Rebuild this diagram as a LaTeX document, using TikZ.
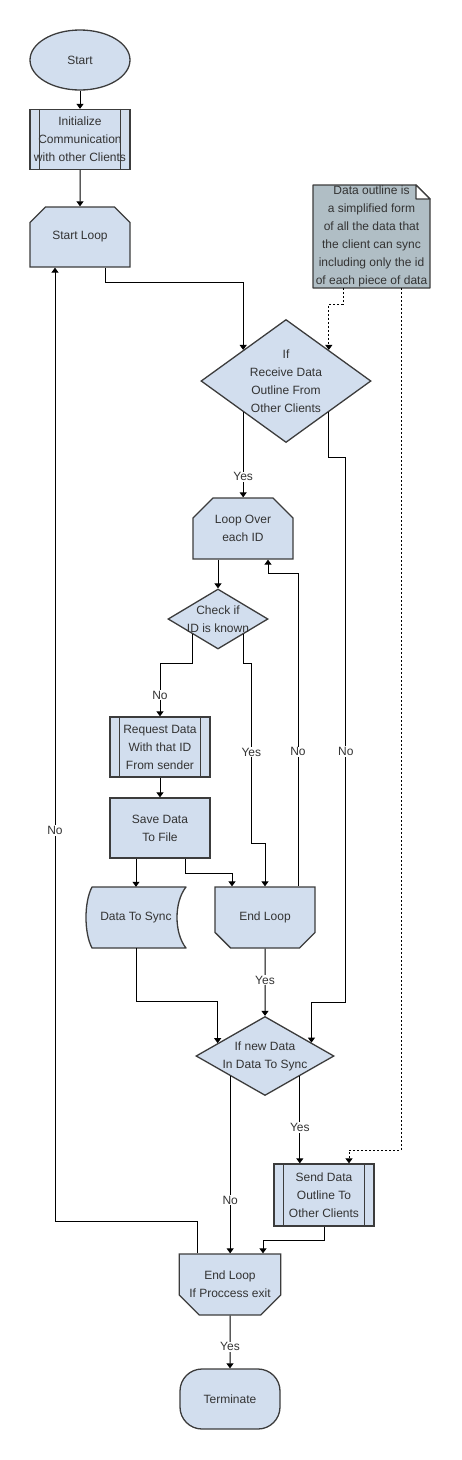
\documentclass[tikz,border=0pt]{standalone}
\usepackage{fontspec}
\setmainfont{Liberation Sans}
\usepackage{tikz}
\usetikzlibrary{arrows.meta,calc,shapes.geometric,shapes.misc}
\definecolor{boxBlue}{HTML}{D2DEEE}
\definecolor{noteGrey}{HTML}{B0BEC5}
\definecolor{edgeGrey}{HTML}{3C3C3C}
\definecolor{textGrey}{HTML}{333333}

\begin{document}
\begin{tikzpicture}[x=1pt,y=-1pt,>={Triangle[width=7pt,length=5pt]},
    every node/.style={font=\fontsize{12}{18}\selectfont,text=textGrey,align=center},
    box/.style={draw=edgeGrey,fill=boxBlue,line width=1.3pt,inner sep=0pt,
      minimum width=100pt,minimum height=60pt},
    looptop/.style={box,chamfered rectangle,chamfered rectangle xsep=10pt,
      chamfered rectangle ysep=10pt,chamfered rectangle corners={north west,north east}},
    loopend/.style={box,chamfered rectangle,chamfered rectangle xsep=10pt,
      chamfered rectangle ysep=10pt,chamfered rectangle corners={south west,south east}},
    dec/.style={box,diamond},
    outline/.style={draw=edgeGrey,line width=1.3pt,line join=round},
    link/.style={->,line width=1pt},
    hint/.style={link,dash pattern=on 2pt off 2pt},
    lbl/.style={fill=white,inner sep=1pt}]
  \useasboundingbox (0,0) rectangle (461,1460);

  % note and storage outlines, drawn under their texts
  \coordinate (noteC) at (371.5,236.5);
  \coordinate (dtsC) at (136,917.5);
  \filldraw[outline,fill=noteGrey] ($(noteC)+(-58.5,-51.5)$) -- ++(103,0) -- ++(14,14)
    -- ++(0,89) -- ++(-117,0) -- cycle;
  \filldraw[outline,fill=white] ($(noteC)+(44.5,-51.5)$) -- ++(0,14) -- ++(14,0) -- cycle;
  \filldraw[outline,fill=boxBlue] ($(dtsC)+(-44,30.5)$)
    .. controls +(-8,-15) and +(-8,15) .. ++(0,-61)
    -- ++(94,0)
    .. controls +(-12,15) and +(-12,-15) .. ++(0,61) -- cycle;

  \node[box,ellipse] (start) at (80,60) {Start};
  \node[box] (init) at (80,139.5) {Initialize\\Communication\\with other Clients};
  \node[looptop] (sloop) at (80,237) {Start Loop};
  \node[inner sep=0pt,minimum width=117pt,minimum height=103pt] (note) at (noteC)
    {Data outline is\\a simplified form\\of all the data that\\the client can sync\\including only the id\\of each piece of data};
  \node[dec,minimum width=170pt,minimum height=123pt,
    label=center:{If\\Receive Data\\Outline From\\Other Clients}] (d1) at (286,381) {};
  \node[looptop,minimum height=61pt] (lover) at (243,528.5) {Loop Over\\each ID};
  \node[dec,minimum width=100pt,minimum height=60pt,
    label=center:{Check if\\ID is known}] (chk) at (218,619) {};
  \node[box] (req) at (160,747) {Request Data\\With that ID\\From sender};
  \node[box] (save) at (160,828) {Save Data\\To File};
  \node[inner sep=0pt,minimum width=100pt,minimum height=61pt] (dts) at (dtsC) {Data To Sync};
  \node[loopend,minimum height=61pt] (eloop) at (265,917.5) {End Loop};
  \node[dec,minimum width=138pt,minimum height=79pt,
    label=center:{If new Data\\In Data To Sync}] (d3) at (265,1056) {};
  \node[box,minimum height=62pt] (send) at (324,1195) {Send Data\\Outline To\\Other Clients};
  \node[loopend,minimum height=61pt] (eloop2) at (230,1284.5) {End Loop\\If Proccess exit};
  \node[box,rounded corners=22pt] (term) at (230,1399) {Terminate};

  \foreach \n in {init,req,send}
    \draw[outline] ($(\n.north west)+(10,0)$) -- ($(\n.south west)+(10,0)$)
      ($(\n.north east)+(-10,0)$) -- ($(\n.south east)+(-10,0)$);

  \coordinate (d3l) at ($(d3.west)!0.32!(d3.north)$);
  \coordinate (d3r) at ($(d3.east)!0.333!(d3.north)$);

  \draw[link] (start) -- (init);
  \draw[link] (init) -- (sloop);
  \draw[link] ([xshift=25pt]sloop.south) -- ++(0,15) -| (d1.north west);
  \draw[hint] ([xshift=-28.5pt]note.south) -- ++(0,16) -| (d1.north east);
  \draw[link] (d1.south west) -- (d1.south west |- lover.north) node[lbl,pos=0.76] {Yes};
  \draw[link] (d1.south east) -- ++(0,45.25) -| ++(17,545) node[lbl,pos=0.77] {No} -| (d3r);
  \draw[link] ([xshift=-25pt]lover.south) -- ([xshift=-25pt]lover.south |- chk.north);
  \draw[link] (chk.south west) -- ++(0,29) -| (req.north) node[lbl,pos=0.8] {No};
  \draw[link] (chk.south east) -- ++(0,29) -| ++(8,180) node[lbl,pos=0.747] {Yes} -| (eloop.north);
  \draw[link] ([xshift=33pt]eloop.north) -- ++(0,-313) node[lbl,pos=0.43] {No}
    -| ([xshift=25pt]lover.south);
  \draw[link] (req) -- (save);
  \draw[link] (dts.north |- save.south) -- (dts.north);
  \draw[link] ([xshift=25pt]save.south) -- ++(0,15) -| ([xshift=-33pt]eloop.north);
  \draw[link] (dts.south) -- ++(0,53) -| (d3l);
  \draw[link] (eloop) -- (d3.north) node[lbl,pos=0.47] {Yes};
  \draw[link] (d3.south west) -- (d3.south west |- eloop2.north) node[lbl,pos=0.7] {No};
  \draw[link] (d3.south east) -- (d3.south east |- send.north) node[lbl,pos=0.59] {Yes};
  \draw[hint] ([xshift=29.5pt]note.south) -- ++(0,862) -| ([xshift=25pt]send.north);
  \draw[link] (send.south) -- ++(0,14) -| ([xshift=33pt]eloop2.north);
  \draw[link] ([xshift=-33pt]eloop2.north) -- ++(0,-32) -| ([xshift=-25pt]sloop.south)
    node[lbl,pos=0.705] {No};
  \draw[link] (eloop2) -- (term) node[lbl,pos=0.59] {Yes};
\end{tikzpicture}
\end{document}
